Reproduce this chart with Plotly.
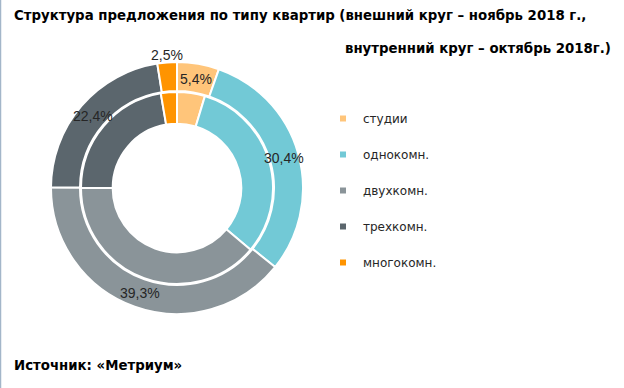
import math
import plotly.graph_objects as go

# ---- data ----
categories = ["студии", "однокомн.", "двухкомн.", "трехкомн.", "многокомн."]
nov_2018 = [5.4, 30.4, 39.3, 22.4, 2.5]      # outer ring
oct_2018 = [4.7, 31.4, 38.9, 22.3, 2.7]      # inner ring
value_labels = ["5,4%", "30,4%", "39,3%", "22,4%", "2,5%"]
colors = ["#FFC57A", "#72C9D6", "#8A9499", "#5B666D", "#FF9400"]

# ---- geometry (pixels) ----
W, H = 624, 388
CX, CY = 177, 188
R_OUT, R_MID, R_IN = 126, 97, 65


def dom(r):
    return dict(x=[(CX - r) / W, (CX + r) / W],
                y=[(H - CY - r) / H, (H - CY + r) / H])


fig = go.Figure()
fig.add_trace(go.Pie(
    labels=categories, values=nov_2018, sort=False, direction="clockwise",
    rotation=0, hole=R_MID / R_OUT, domain=dom(R_OUT),
    marker=dict(colors=colors, line=dict(color="white", width=2)),
    textinfo="none", hoverinfo="label+value", showlegend=False,
))
fig.add_trace(go.Pie(
    labels=categories, values=oct_2018, sort=False, direction="clockwise",
    rotation=0, hole=R_IN / R_MID, domain=dom(R_MID - 1),
    marker=dict(colors=colors, line=dict(color="white", width=2)),
    textinfo="none", hoverinfo="label+value", showlegend=False,
))

# legend entries
for c, col in zip(categories, colors):
    fig.add_trace(go.Scatter(
        x=[None], y=[None], mode="markers", name=c, legendgroup=c,
        marker=dict(symbol="square", size=6, color=col),
    ))

# value labels on outer ring, positioned from the data angles
total = sum(nov_2018)
cum = 0.0
ann = []
for i, (v, lab) in enumerate(zip(nov_2018, value_labels)):
    mid = (cum + v / 2) / total * 2 * math.pi
    cum += v
    r = 111 if i < len(nov_2018) - 1 else 133
    px = CX + r * math.sin(mid)
    py = CY - r * math.cos(mid)
    ann.append(dict(x=px / W, y=(H - py) / H, xref="paper", yref="paper",
                    xanchor="center", yanchor="middle",
                    text=lab, showarrow=False,
                    font=dict(family="Liberation Sans, Arial, sans-serif",
                              size=14, color="#262626")))

title_font = dict(family="Liberation Sans Narrow, DejaVu Sans Condensed, Arial Narrow, sans-serif",
                  size=14.8, color="#000000")
ann.append(dict(x=12 / W, y=1 - 15 / H, xref="paper", yref="paper", xanchor="left",
                yanchor="middle", showarrow=False,
                text="<b>Структура предложения по типу квартир (внешний круг – ноябрь 2018 г.,</b>",
                font=title_font))
ann.append(dict(x=613 / W, y=1 - 47 / H, xref="paper", yref="paper", xanchor="right",
                yanchor="middle", showarrow=False,
                text="<b>внутренний круг – октябрь 2018г.)</b>",
                font=title_font))
ann.append(dict(x=12 / W, y=1 - 364 / H, xref="paper", yref="paper", xanchor="left",
                yanchor="middle", showarrow=False,
                text="<b>Источник: «Метриум»</b>",
                font=title_font))

fig.update_layout(
    width=W, height=H, margin=dict(l=0, r=0, t=0, b=0),
    paper_bgcolor="white", plot_bgcolor="white",
    xaxis=dict(visible=False), yaxis=dict(visible=False),
    annotations=ann,
    legend=dict(x=323 / W, y=1 - 104 / H, xanchor="left", yanchor="top",
                tracegroupgap=17, itemwidth=30,
                font=dict(family="DejaVu Sans, sans-serif", size=12, color="#262626"),
                bgcolor="rgba(0,0,0,0)"),
    shapes=[dict(type="line", xref="paper", yref="paper", x0=0.5 / W, x1=0.5 / W, y0=0, y1=1,
                 line=dict(color="#A3B6C9", width=1.5))],
)

fig.write_html("out.html", config={"displayModeBar": False},
               post_script="document.body.style.margin='0';")
